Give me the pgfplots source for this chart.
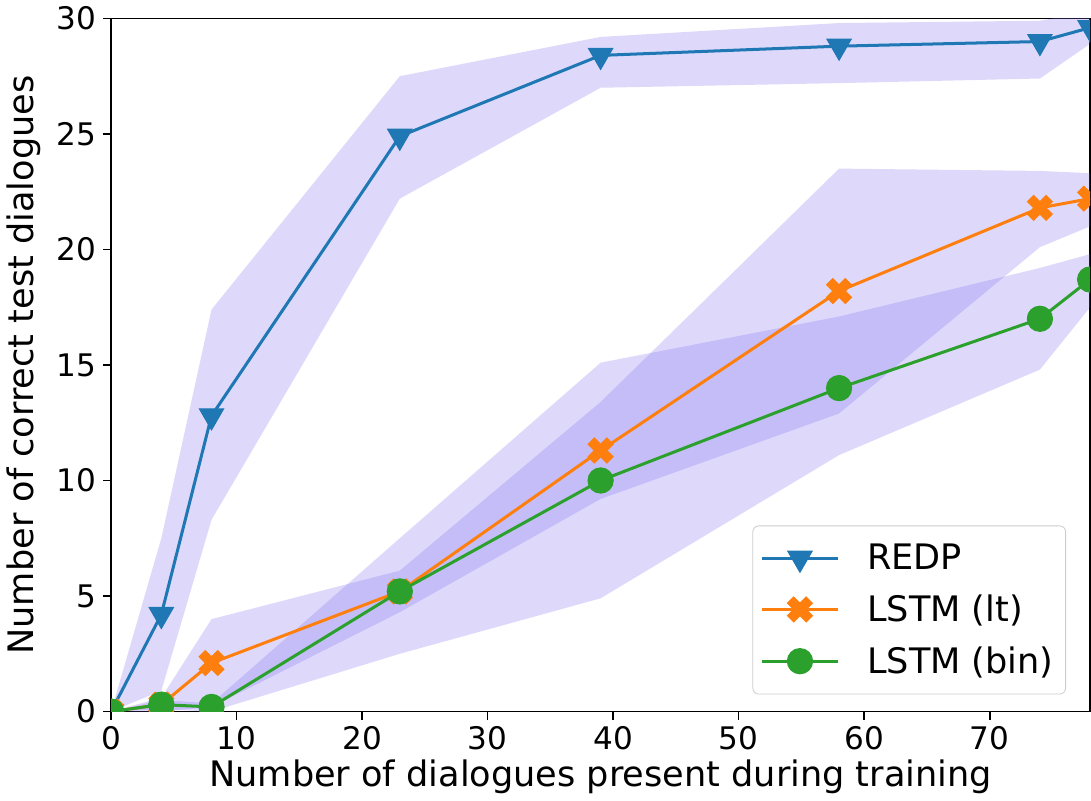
\documentclass[border=0pt]{standalone}
\usepackage{fontspec}
\setmainfont{DejaVu Sans}
\usepackage{pgfplots}
\usepackage{pgfplotstable}
\pgfplotsset{compat=1.18}
\usepgfplotslibrary{fillbetween}

\definecolor{tabblue}{RGB}{31,119,180}
\definecolor{taborange}{RGB}{255,127,14}
\definecolor{tabgreen}{RGB}{44,160,44}
\definecolor{bandc}{RGB}{123,104,238}

\pgfdeclareplotmark{fatX}{%
  \pgfpathmoveto{\pgfpoint{-0.4714\pgfplotmarksize}{-0.9428\pgfplotmarksize}}%
  \pgfpathlineto{\pgfpoint{-0.9428\pgfplotmarksize}{-0.4714\pgfplotmarksize}}%
  \pgfpathlineto{\pgfpoint{-0.4714\pgfplotmarksize}{0pt}}%
  \pgfpathlineto{\pgfpoint{-0.9428\pgfplotmarksize}{0.4714\pgfplotmarksize}}%
  \pgfpathlineto{\pgfpoint{-0.4714\pgfplotmarksize}{0.9428\pgfplotmarksize}}%
  \pgfpathlineto{\pgfpoint{0pt}{0.4714\pgfplotmarksize}}%
  \pgfpathlineto{\pgfpoint{0.4714\pgfplotmarksize}{0.9428\pgfplotmarksize}}%
  \pgfpathlineto{\pgfpoint{0.9428\pgfplotmarksize}{0.4714\pgfplotmarksize}}%
  \pgfpathlineto{\pgfpoint{0.4714\pgfplotmarksize}{0pt}}%
  \pgfpathlineto{\pgfpoint{0.9428\pgfplotmarksize}{-0.4714\pgfplotmarksize}}%
  \pgfpathlineto{\pgfpoint{0.4714\pgfplotmarksize}{-0.9428\pgfplotmarksize}}%
  \pgfpathlineto{\pgfpoint{0pt}{-0.4714\pgfplotmarksize}}%
  \pgfpathclose
  \pgfusepathqfillstroke
}

% x  y  lo  hi
\pgfplotstableread{
x y lo hi
0 0 0 0
4 4.2 0.9 7.5
8 12.8 8.3 17.4
23 24.9 22.2 27.5
39 28.4 27.0 29.2
58 28.8 27.2 29.8
74 29.0 27.4 29.9
78 29.6 28.9 30.3
}\redp
\pgfplotstableread{
x y lo hi
0 0 0 0
4 0.3 0.0 0.6
8 2.1 0.2 4.0
23 5.2 4.3 6.1
39 11.3 9.2 13.4
58 18.2 12.9 23.5
74 21.8 20.1 23.4
78 22.2 21.0 23.3
}\lstmlt
\pgfplotstableread{
x y lo hi
0 0 0 0
4 0.3 0.1 0.5
8 0.2 0.0 0.35
23 5.2 2.5 7.5
39 10.0 4.9 15.1
58 14.0 11.1 17.1
74 17.0 14.8 19.2
78 18.7 17.5 19.8
}\lstmbin

\begin{document}
\begin{tikzpicture}
\begin{axis}[
  scale only axis,
  width=488pt, height=345.5pt,
  xmin=0, xmax=78, ymin=0, ymax=30,
  xtick={0,10,...,70}, ytick={0,5,...,30},
  tick align=outside, xtick pos=left, ytick pos=left,
  major tick length=4pt,
  every tick/.style={black, line width=0.8pt},
  axis line style={line width=0.9pt},
  tick label style={font=\fontsize{15.5}{18}\selectfont},
  /pgf/number format/assume math mode=true,
  label style={font=\fontsize{17.5}{20}\selectfont},
  xlabel={Number of dialogues present during training},
  ylabel={Number of correct test dialogues},
  xlabel style={yshift=2pt},
  ylabel style={yshift=1pt},
  clip marker paths=true,
  legend cell align=left,
  legend style={at={(rel axis cs:1,0)}, anchor=south east, xshift=-12pt, yshift=8.5pt,
    font=\fontsize{17.5}{20}\selectfont, draw=black!20, rounded corners=3pt,
    fill=white, row sep=7pt,
    inner xsep=4pt, inner ysep=7pt, nodes={inner sep=2pt},
    /tikz/every odd column/.append style={column sep=12pt}},
  legend image code/.code={\draw[mark repeat=2,mark phase=2] plot coordinates {(0pt,0pt)(18.75pt,0pt)(37.5pt,0pt)};},
]
% bands
\addplot[draw=none, name path=rh, forget plot] table[x=x,y=hi] {\redp};
\addplot[draw=none, name path=rl, forget plot] table[x=x,y=lo] {\redp};
\addplot[fill=bandc, fill opacity=0.25, draw=none, forget plot] fill between[of=rh and rl];
\addplot[draw=none, name path=lh, forget plot] table[x=x,y=hi] {\lstmlt};
\addplot[draw=none, name path=ll, forget plot] table[x=x,y=lo] {\lstmlt};
\addplot[fill=bandc, fill opacity=0.25, draw=none, forget plot] fill between[of=lh and ll];
\addplot[draw=none, name path=bh, forget plot] table[x=x,y=hi] {\lstmbin};
\addplot[draw=none, name path=bl, forget plot] table[x=x,y=lo] {\lstmbin};
\addplot[fill=bandc, fill opacity=0.25, draw=none, forget plot] fill between[of=bh and bl];
% lines
\addplot[tabblue, line width=1.5pt, mark=triangle*, mark size=7pt,
  mark options={rotate=180, solid, fill=tabblue, draw=tabblue, line width=0.5pt}]
  table[x=x,y=y] {\redp};
\addlegendentry{REDP}
\addplot[taborange, line width=1.5pt, mark=fatX, mark size=6.6pt,
  mark options={solid, fill=taborange, draw=taborange, line width=0.5pt}]
  table[x=x,y=y] {\lstmlt};
\addlegendentry{LSTM (lt)}
\addplot[tabgreen, line width=1.5pt, mark=*, mark size=6.3pt,
  mark options={solid, fill=tabgreen, draw=tabgreen, line width=0.5pt}]
  table[x=x,y=y] {\lstmbin};
\addlegendentry{LSTM (bin)}
\end{axis}
\end{tikzpicture}
\end{document}
